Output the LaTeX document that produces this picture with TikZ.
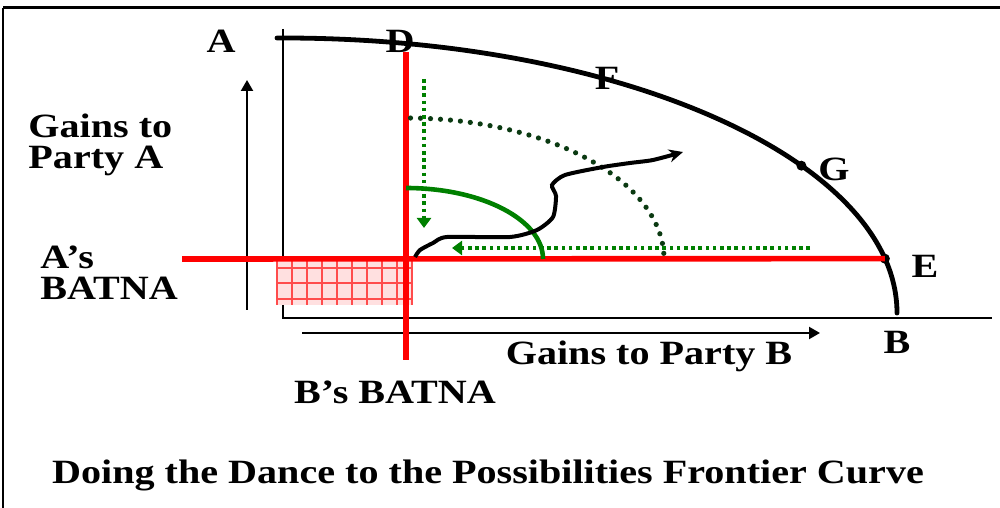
\documentclass[tikz,border=0pt]{standalone}
\usepackage{fontspec}
\setmainfont{Liberation Serif}
\usepackage{tikz}
\usetikzlibrary{arrows.meta,calc}
\definecolor{ink}{HTML}{000000}
\definecolor{batna}{HTML}{FF0000}
\definecolor{mesh}{HTML}{FFE0E0}
\definecolor{move}{HTML}{008000}
\definecolor{deep}{HTML}{0B3A12}
\tikzset{
  axis/.style={draw=ink, line width=1.3pt},
  ar/.style={-{Triangle[length=5.5pt,width=6pt]}, line width=1.1pt, color=ink},
  lbl/.style={font=\fontsize{17pt}{15.5pt}\selectfont\bfseries, inner sep=0pt, xscale=1.18, text=ink},
  pt/.style={circle, fill=ink, inner sep=0pt, minimum size=5pt},
  redline/.style={draw=batna, line width=2.8pt},
  gridln/.style={draw=batna!70, line width=1pt},
  dotsq/.style={draw=move, line width=1.9pt, dash pattern=on 1.8pt off 1.8pt,
                -{Triangle[length=5pt,width=7pt]}},
  dotrd/.style={draw=deep, line width=2.6pt, line cap=round, dash pattern=on 0pt off 5pt},
}

\begin{document}
\begin{tikzpicture}[x=0.5pt,y=0.5pt]
\useasboundingbox (0,0) rectangle (1000,508);
% --- frame ---
\draw[ink, line width=1.5pt] (3,500) -- (1000,500);
\draw[ink, line width=1pt] (3,500) -- (3,0);

% --- axes ---
\coordinate (org)  at (283,190);
\coordinate (ytop) at (283,479);
\coordinate (xend) at (992,190);
\draw[axis] (ytop) -- (org) -- (xend);
\coordinate (ya) at (247,198);
\coordinate (yb) at (247,428);
\draw[ar] (ya) -- (yb);
\coordinate (xa) at (302,175);
\coordinate (xb) at (820,175);
\draw[ar] (xa) -- (xb);

% --- BATNA mesh ---
\fill[mesh] (277,203) rectangle (412,250);
\foreach \gx in {277,292,...,412} \draw[gridln] (\gx,203) -- (\gx,250);
\foreach \gy in {209,225,240} \draw[gridln] (277,\gy) -- (412,\gy);

% --- frontier ---
\coordinate (fc)  at (283,195);
\coordinate (ptA) at (277,470);
\draw[ink, line width=2.4pt, line cap=round] (ptA) -- ($(fc)+(0,275)$)
  arc[start angle=90, end angle=0, x radius=614, y radius=275] coordinate (ptB);
\node[pt] (ptG) at ($(fc)+(32.4:614 and 275)$) {};
\node[pt] (ptE) at ($(fc)+(11.4:614 and 275)$) {};

% --- BATNA lines ---
\coordinate (aBat) at (182,249);
\draw[redline] (aBat) -- (ptE.center);
\coordinate (bTop) at (406,456);
\coordinate (bBot) at (406,148);
\draw[redline] (bTop) -- (bBot);

% --- the dance ---
\coordinate (bat) at (406,249);
\draw[move, line width=2.3pt] ($(bat)+(0,71)$)
  arc[start angle=90, end angle=0, x radius=137, y radius=71];
\draw[dotrd] ($(bat)+(89:258 and 141)$)
  arc[start angle=89, end angle=2, x radius=258, y radius=141];
\coordinate (vs) at (424,429);
\coordinate (ve) at (424,280);
\draw[dotsq] (vs) -- (ve);
\coordinate (hs) at (810,260);
\coordinate (he) at (452,260);
\draw[dotsq] (hs) -- (he);
\coordinate (w0) at (415,251);
\coordinate (w1) at (683,356);
\draw[ink, line width=2pt, -{Stealth[length=7pt,width=6.5pt]}]
  plot[smooth, tension=0.4] coordinates {(w0) (420,258) (433,265) (447,271) (510,271)
  (537,278) (553,291) (556,312) (552,323) (565,333) (603,341) (630,345) (653,348) (w1)};

% --- labels ---
\node[lbl, anchor=base] (labA) at (221,455) {A};
\node[lbl, anchor=base] (labD) at (400,455) {D};
\node[lbl, anchor=base] (labF) at (607,418) {F};
\node[lbl, anchor=base] (labG) at (834,327) {G};
\node[lbl, anchor=base] (labE) at (925,230) {E};
\node[lbl, anchor=base] (labB) at (897,154) {B};
\node[lbl, align=left, anchor=north west] (gainsA) at (28,394) {Gains to\\Party A};
\node[lbl, align=left, anchor=north west] (batnaA) at (40,263) {A’s\\BATNA};
\node[lbl, anchor=base] (gainsB) at (649,143) {Gains to Party B};
\node[lbl, anchor=base] (batnaB) at (395,104) {B’s BATNA};
\node[lbl, anchor=base] (title) at (488,25) {Doing the Dance to the Possibilities Frontier Curve};
\end{tikzpicture}
\end{document}
